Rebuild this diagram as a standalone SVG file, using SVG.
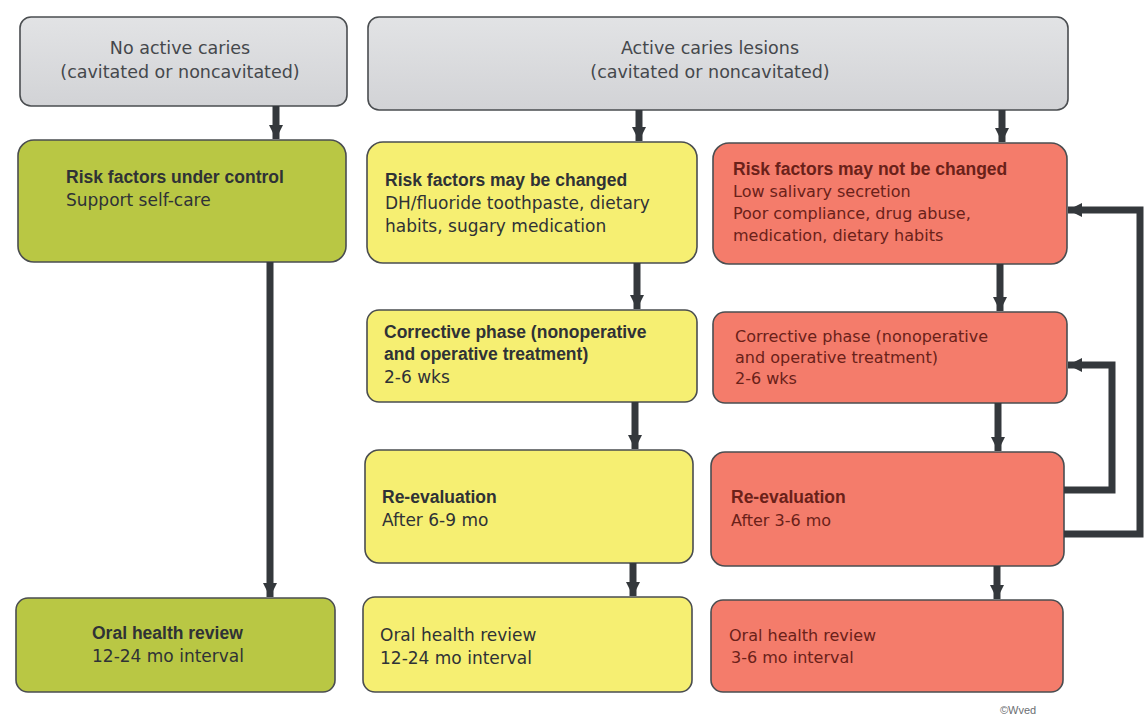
<svg xmlns="http://www.w3.org/2000/svg" width="1147" height="719" viewBox="0 0 1147 719">
  <defs>
    <marker id="head" markerUnits="userSpaceOnUse" markerWidth="18" markerHeight="18" refX="14" refY="9" orient="auto">
      <path d="M0,2 L14,9 L0,16 Z" fill="#34383c"/>
    </marker>
    <linearGradient id="gHead" x1="0" y1="0" x2="0" y2="1">
      <stop offset="0" stop-color="#e2e3e5"/>
      <stop offset="1" stop-color="#d2d3d6"/>
    </linearGradient>
  </defs>
  <style>
    .box { stroke: #4a4d50; stroke-width: 1.6; }
    .head { fill: url(#gHead); }
    .green { fill: #b9c744; }
    .yellow { fill: #f6ef72; }
    .red { fill: #f47c6b; }
    text { font-family: "DejaVu Sans", "Liberation Sans", sans-serif; font-size: 17px; fill: #2f3236; }
    .hd { fill: #45484c; text-anchor: middle; font-size: 17.5px; }
    .rt { fill: #6a2119; font-size: 16px; }
    .b { font-family: "Liberation Sans", Arial, sans-serif; font-weight: bold; font-size: 17.5px; }
    .conn { fill: none; stroke: #34383c; stroke-width: 7; stroke-linejoin: miter; }
    .credit { font-family: "Liberation Sans", Arial, sans-serif; font-size: 11px; fill: #6b6e72; }
  </style>
  <rect width="1147" height="719" fill="#ffffff"/>

  <!-- headers -->
  <g id="no-active">
    <rect class="box head" x="20" y="17" width="327" height="89" rx="11"/>
    <text class="hd" x="180" y="54">No active caries</text>
    <text class="hd" x="180" y="78">(cavitated or noncavitated)</text>
  </g>
  <g id="active">
    <rect class="box head" x="368" y="17" width="700" height="93" rx="11"/>
    <text class="hd" x="710" y="54">Active caries lesions</text>
    <text class="hd" x="710" y="78">(cavitated or noncavitated)</text>
  </g>

  <!-- low risk column -->
  <g id="low-risk">
    <rect class="box green" x="18" y="140" width="328" height="122" rx="16"/>
    <text class="b" x="66" y="183">Risk factors under control</text>
    <text x="66" y="206">Support self-care</text>
  </g>
  <g id="low-review">
    <rect class="box green" x="16" y="598" width="319" height="94" rx="12"/>
    <text class="b" x="92" y="639">Oral health review</text>
    <text x="92" y="662">12-24 mo interval</text>
  </g>

  <!-- moderate risk column -->
  <g id="mod-risk">
    <rect class="box yellow" x="367" y="142" width="330" height="121" rx="16"/>
    <text class="b" x="385" y="186">Risk factors may be changed</text>
    <text x="385" y="209">DH/fluoride toothpaste, dietary</text>
    <text x="385" y="232">habits, sugary medication</text>
  </g>
  <g id="mod-corrective">
    <rect class="box yellow" x="367" y="310" width="330" height="92" rx="12"/>
    <text class="b" x="384" y="338">Corrective phase (nonoperative</text>
    <text class="b" x="384" y="360">and operative treatment)</text>
    <text x="384" y="383">2-6 wks</text>
  </g>
  <g id="mod-reeval">
    <rect class="box yellow" x="365" y="450" width="328" height="113" rx="14"/>
    <text class="b" x="382" y="503">Re-evaluation</text>
    <text x="382" y="526">After 6-9 mo</text>
  </g>
  <g id="mod-review">
    <rect class="box yellow" x="363" y="597" width="329" height="95" rx="12"/>
    <text x="380" y="641">Oral health review</text>
    <text x="380" y="664">12-24 mo interval</text>
  </g>

  <!-- high risk column -->
  <g id="high-risk">
    <rect class="box red" x="713" y="143" width="354" height="121" rx="16"/>
    <text class="rt b" x="733" y="175">Risk factors may not be changed</text>
    <text class="rt" x="733" y="197">Low salivary secretion</text>
    <text class="rt" x="733" y="219">Poor compliance, drug abuse,</text>
    <text class="rt" x="733" y="241">medication, dietary habits</text>
  </g>
  <g id="high-corrective">
    <rect class="box red" x="713" y="312" width="354" height="91" rx="12"/>
    <text class="rt" x="735" y="342">Corrective phase (nonoperative</text>
    <text class="rt" x="735" y="363">and operative treatment)</text>
    <text class="rt" x="735" y="384">2-6 wks</text>
  </g>
  <g id="high-reeval">
    <rect class="box red" x="711" y="452" width="353" height="114" rx="14"/>
    <text class="rt b" x="731" y="503">Re-evaluation</text>
    <text class="rt" x="731" y="526">After 3-6 mo</text>
  </g>
  <g id="high-review">
    <rect class="box red" x="711" y="600" width="352" height="92" rx="12"/>
    <text class="rt" x="729" y="641">Oral health review</text>
    <text class="rt" x="731" y="663">3-6 mo interval</text>
  </g>

  <!-- connectors -->
  <g id="connectors">
    <path class="conn" d="M276,106 V139" marker-end="url(#head)"/>
    <path class="conn" d="M270,262 V597" marker-end="url(#head)"/>

    <path class="conn" d="M639,110 V141" marker-end="url(#head)"/>
    <path class="conn" d="M637,263 V309" marker-end="url(#head)"/>
    <path class="conn" d="M635,402 V449" marker-end="url(#head)"/>
    <path class="conn" d="M633,563 V596" marker-end="url(#head)"/>

    <path class="conn" d="M1002,110 V142" marker-end="url(#head)"/>
    <path class="conn" d="M1000,264 V311" marker-end="url(#head)"/>
    <path class="conn" d="M998,403 V451" marker-end="url(#head)"/>
    <path class="conn" d="M997,566 V599" marker-end="url(#head)"/>

    <path class="conn" d="M1064,490 H1112 V365 H1068" marker-end="url(#head)"/>
    <path class="conn" d="M1064,534 H1140 V210 H1068" marker-end="url(#head)"/>
  </g>

  <text class="credit" x="1000" y="714">©Wved</text>
</svg>
